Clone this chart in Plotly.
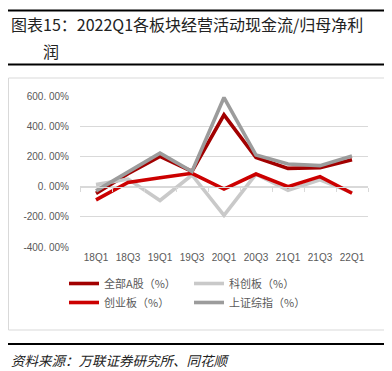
import plotly.graph_objects as go

categories = ["18Q1", "18Q3", "19Q1", "19Q3", "20Q1", "20Q3", "21Q1", "21Q3", "22Q1"]
all_a = [-45, 85, 200, 100, 475, 193, 121, 125, 178]
star = [13, 50, -92, 77, -191, 83, -24, 45, -40]
chinext = [-88, 28, 58, 88, -16, 83, 0, 66, -44]
sse = [-28, 100, 222, 100, 590, 209, 150, 139, 202]

tick_vals = [600, 400, 200, 0, -200, -400]
tick_text = ["600. 00%", "400. 00%", "200. 00%", "0. 00%", "-200. 00%", "-400. 00%"]

series_names = ["全部A股（%）", "科创板（%）", "创业板（%）", "上证综指（%）"]

W, H = 392, 371
ML, MR, MT, MB = 72, 32, 88, 132
PW, PH = W - ML - MR, H - MT - MB

def px(x):
    return (x - ML) / PW

def py(y):
    return (H - MB - y) / PH

fig = go.Figure()
series = [all_a, star, chinext, sse]
colors = ["#A20000", "#C9C9C9", "#CC0000", "#9C9C9C"]
for name, vals, col in zip(series_names, series, colors):
    fig.add_trace(go.Scatter(x=categories, y=vals, name=name, mode="lines",
                             line=dict(color=col, width=3.6)))

# invisible trace for the zero-axis with boundary ticks
fig.add_trace(go.Scatter(x=categories, y=[0] * len(categories), xaxis="x2",
                         mode="lines", line=dict(width=0), showlegend=False,
                         hoverinfo="skip"))

font_cjk = "Noto Sans CJK SC, Noto Sans, sans-serif"

fig.update_layout(
    width=W, height=H,
    margin=dict(l=ML, r=MR, t=MT, b=MB, autoexpand=False),
    paper_bgcolor="white", plot_bgcolor="white",
    showlegend=True,
    legend=dict(orientation="h", x=px(56), y=py(261), xanchor="left", yanchor="top",
                font=dict(family=font_cjk, size=11, color="#595959"),
                entrywidth=80, entrywidthmode="pixels", itemwidth=30,
                traceorder="normal", bgcolor="rgba(0,0,0,0)"),
    xaxis=dict(type="category", range=[-0.5, 8.5], showgrid=False, showline=False,
               zeroline=False, ticks="", ticklabelstandoff=3,
               tickfont=dict(family="Liberation Sans, Arial", size=10, color="#595959")),
    xaxis2=dict(type="category", range=[-0.5, 8.5], overlaying="x", anchor="free",
                position=0.4, side="bottom", showline=True, linecolor="#D9D9D9",
                linewidth=1, ticks="outside", ticklen=4, tickcolor="#D9D9D9",
                tickson="boundaries", showticklabels=False, showgrid=False,
                zeroline=False),
    yaxis=dict(range=[-400, 600], tickvals=tick_vals, ticktext=tick_text,
               showgrid=True, gridcolor="#D9D9D9", gridwidth=1, zeroline=False,
               showline=False, ticks="", ticklabelstandoff=10,
               tickfont=dict(family="Liberation Sans, Arial", size=10, color="#595959")),
)

shapes = [
    dict(type="rect", xref="paper", yref="paper", x0=px(0.5), x1=px(377),
         y0=py(322), y1=py(70), line=dict(color="#D9D9D9", width=1), layer="below"),
    dict(type="line", xref="paper", yref="paper", x0=px(0), x1=px(387),
         y0=py(2.5), y1=py(2.5), line=dict(color="#000000", width=2)),
    dict(type="line", xref="paper", yref="paper", x0=px(0), x1=px(387),
         y0=py(56.5), y1=py(56.5), line=dict(color="#000000", width=2)),
    dict(type="line", xref="paper", yref="paper", x0=px(0), x1=px(387),
         y0=py(336), y1=py(336), line=dict(color="#000000", width=2)),
]
fig.update_layout(shapes=shapes)

annotations = [
    dict(text="图表15：2022Q1各板块经营活动现金流/归母净利", xref="paper", yref="paper",
         x=px(1), y=py(16), xanchor="left", yanchor="middle", showarrow=False,
         font=dict(family=font_cjk, size=16, color="#222222")),
    dict(text="润", xref="paper", yref="paper",
         x=px(33), y=py(43), xanchor="left", yanchor="middle", showarrow=False,
         font=dict(family=font_cjk, size=16, color="#222222")),
    dict(text="<i>资料来源：万联证券研究所、同花顺</i>", xref="paper", yref="paper",
         x=px(1), y=py(352), xanchor="left", yanchor="middle", showarrow=False,
         font=dict(family=font_cjk, size=13.5, color="#222222")),
]
fig.update_layout(annotations=annotations)

fig.write_html("out.html")
